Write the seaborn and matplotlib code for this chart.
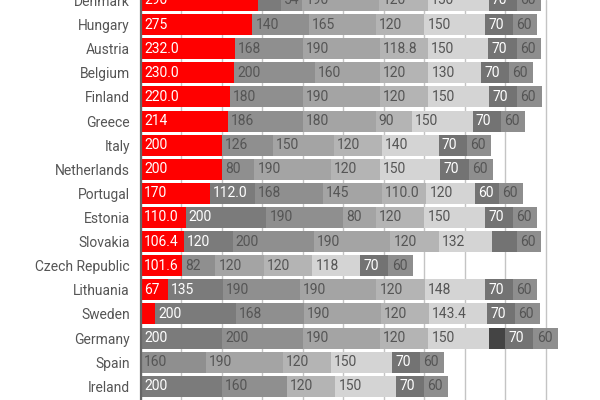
import matplotlib
matplotlib.use("Agg")
import matplotlib.pyplot as plt
import pandas as pd
import seaborn as sns

# values, one list per stacked series ("" = no segment)
countries = ["Denmark", "Hungary", "Austria", "Belgium", "Finland", "Greece", "Italy",
             "Netherlands", "Portugal", "Estonia", "Slovakia", "Czech Republic",
             "Lithuania", "Sweden", "Germany", "Spain", "Ireland"]
s1 = ["290", "275", "232.0", "230.0", "220.0", "214", "200", "200", "170", "110.0",
      "106.4", "101.6", "67", "34", "", "", ""]
s2 = ["55", "", "", "", "", "", "", "", "112.0", "200", "120", "", "135", "200",
      "200", "", "200"]
s3 = ["54", "140", "168", "200", "180", "186", "126", "80", "168", "190", "200", "82",
      "190", "168", "200", "160", "160"]
s4 = ["190", "165", "190", "160", "190", "180", "150", "190", "145", "80", "190", "120",
      "190", "190", "190", "190", ""]
s5 = ["120", "120", "118.8", "120", "120", "90", "120", "120", "110.0", "120", "120",
      "120", "120", "120", "120", "120", "120"]
s6 = ["150", "150", "150", "130", "150", "150", "140", "150", "120", "150", "132", "118",
      "148", "143.4", "150", "150", "150"]
s7 = ["", "", "", "", "", "", "", "", "", "", "", "", "", "", "40", "", ""]
s8 = ["70", "70", "70", "70", "70", "70", "70", "70", "60", "70", "60", "70", "70", "70",
      "70", "70", "70"]
s9 = ["60", "60", "60", "60", "60", "60", "60", "60", "60", "60", "60", "60", "60", "60",
      "60", "60", "60"]
# segments drawn without a label
hidden = [("Denmark", 1), ("Slovakia", 7), ("Sweden", 0), ("Germany", 6)]

series = [s1, s2, s3, s4, s5, s6, s7, s8, s9]
colors = ["#ff0000", "#7b7b7b", "#8f8f8f", "#a4a4a4", "#b4b4b4", "#d4d4d4",
          "#444444", "#737373", "#8e8e8e"]
light_text = [True, True, False, False, False, False, True, True, False]

sns.set_theme(style="white")
plt.rcParams["font.family"] = ["Roboto", "DejaVu Sans"]

df = pd.DataFrame({"country": countries})
for i, s in enumerate(series):
    df[f"v{i}"] = [float(v) if v else 0.0 for v in s]
vals = df[[f"v{i}" for i in range(len(series))]]
cum = vals.cumsum(axis=1)
start = cum - vals

fig = plt.figure(figsize=(6, 4), dpi=100)
ax = fig.add_axes([0.235, 0.0, 0.708, 1.0])
ax.set_axisbelow(True)
ax.grid(axis="x", color="#c4c4c4", linewidth=1)

# stacked look: draw cumulative totals from the outermost series inwards
for i in reversed(range(len(series))):
    sns.barplot(x=cum[f"v{i}"], y=df["country"], color=colors[i], orient="h",
                width=0.87, saturation=1, linewidth=0, ax=ax)

for i, s in enumerate(series):
    for r, txt in enumerate(s):
        if not txt or (countries[r], i) in hidden:
            continue
        ax.annotate(txt, (start.iloc[r, i], r), xytext=(2.3, 0),
                    textcoords="offset points", va="center", ha="left",
                    fontsize=10, color="white" if light_text[i] else "#555555")

ax.set_xlim(0, 1050)
ax.set_ylim(16.57, -0.02)
ax.set_xticks(range(0, 1001, 100))
ax.set_xlabel("")
ax.set_ylabel("")
ax.tick_params(axis="y", length=0, pad=8, labelsize=10, labelcolor="#555555")
for side in ["top", "right", "bottom"]:
    ax.spines[side].set_visible(False)
ax.spines["left"].set_color("#666666")
ax.spines["left"].set_linewidth(1.6)

fig.savefig("out.png", dpi=100)
